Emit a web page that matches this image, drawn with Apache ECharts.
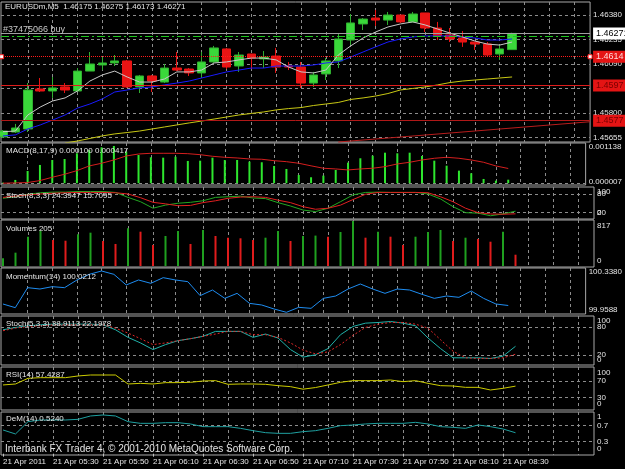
<!DOCTYPE html>
<html>
<head>
<meta charset="utf-8">
<title>EURUSDm,M5</title>
<script src="https://cdn.jsdelivr.net/npm/echarts@6.0.0/dist/echarts.min.js"></script>
<style>
  html, body { margin: 0; padding: 0; background: #000; }
  #main { width: 625px; height: 469px; }
</style>
</head>
<body>
<div id="main"></div>
<script>
var FONT = "'Liberation Sans', Arial, sans-serif";
var TXT = '#e4e4e4';
var FS = 8;

// M5 bars, index 0 = 05:10
var timeTicks = [0, 4, 8, 12, 16, 20, 24, 28, 32, 36, 40];
var timeLabels = ['21 Apr 2011', '21 Apr 05:30', '21 Apr 05:50', '21 Apr 06:10', '21 Apr 06:30', '21 Apr 06:50',
  '21 Apr 07:10', '21 Apr 07:30', '21 Apr 07:50', '21 Apr 08:10', '21 Apr 08:30'];
var gridBars = [2, 4, 6, 8, 10, 12, 14, 16, 18, 20, 22, 24, 26, 28, 30, 32, 34, 36, 38, 40, 42, 44, 46];

// open, close, low, high
var ohlc = [
  [1.45658, 1.45693, 1.45652, 1.45699], [1.45687, 1.45711, 1.45681, 1.45735], [1.45705, 1.45936, 1.45687, 1.45977],
  [1.45942, 1.45930, 1.45924, 1.46007], [1.45930, 1.45948, 1.45889, 1.46013], [1.45954, 1.45936, 1.45918, 1.45977],
  [1.45930, 1.46048, 1.45924, 1.46066], [1.46048, 1.46090, 1.46048, 1.46161], [1.46084, 1.46096, 1.46054, 1.46131],
  [1.46096, 1.46108, 1.46078, 1.46143], [1.46108, 1.45954, 1.45948, 1.46114], [1.45954, 1.46019, 1.45918, 1.46025],
  [1.46019, 1.45989, 1.45924, 1.46025], [1.45983, 1.46066, 1.45977, 1.46090], [1.46066, 1.46054, 1.46048, 1.46161],
  [1.46060, 1.46037, 1.46019, 1.46066], [1.46037, 1.46102, 1.46007, 1.46161], [1.46102, 1.46185, 1.46096, 1.46197],
  [1.46179, 1.46072, 1.46060, 1.46185], [1.46078, 1.46143, 1.46043, 1.46161], [1.46149, 1.46125, 1.46060, 1.46149],
  [1.46120, 1.46131, 1.46066, 1.46167], [1.46137, 1.46072, 1.46037, 1.46185], [1.46078, 1.46072, 1.46054, 1.46102],
  [1.46072, 1.45977, 1.45948, 1.46102], [1.45977, 1.46025, 1.45954, 1.46043], [1.46031, 1.46108, 1.45995, 1.46125],
  [1.46108, 1.46238, 1.46066, 1.46273], [1.46232, 1.46333, 1.46202, 1.46386], [1.46327, 1.46356, 1.46291, 1.46362],
  [1.46362, 1.46350, 1.46315, 1.46410], [1.46350, 1.46380, 1.46321, 1.46398], [1.46380, 1.46339, 1.46333, 1.46380],
  [1.46339, 1.46386, 1.46339, 1.46398], [1.46392, 1.46303, 1.46279, 1.46392], [1.46303, 1.46256, 1.46232, 1.46339],
  [1.46262, 1.46238, 1.46220, 1.46303], [1.46244, 1.46220, 1.46191, 1.46285], [1.46220, 1.46208, 1.46173, 1.46220],
  [1.46208, 1.46143, 1.46137, 1.46220], [1.46149, 1.46179, 1.46114, 1.46202], [1.46175, 1.46271, 1.46173, 1.46275]
];
var maFast = [1.45689, 1.45693, 1.45788, 1.45835, 1.45871, 1.45889, 1.45930, 1.45989, 1.46025, 1.46048, 1.46013,
  1.45983, 1.45983, 1.46001, 1.46043, 1.46043, 1.46054, 1.46096, 1.46102, 1.46114, 1.46125, 1.46125, 1.46114,
  1.46072, 1.46043, 1.46037, 1.46054, 1.46143, 1.46197, 1.46244, 1.46279, 1.46309, 1.46327, 1.46339, 1.46321,
  1.46297, 1.46273, 1.46250, 1.46226, 1.46208, 1.46202, 1.46220];
var maMid = [1.45664, 1.45670, 1.45705, 1.45729, 1.45758, 1.45788, 1.45829, 1.45853, 1.45883, 1.45924, 1.45936,
  1.45948, 1.45954, 1.45966, 1.45977, 1.45989, 1.46007, 1.46025, 1.46043, 1.46054, 1.46066, 1.46066, 1.46078,
  1.46078, 1.46078, 1.46084, 1.46096, 1.46102, 1.46131, 1.46161, 1.46191, 1.46220, 1.46238, 1.46250, 1.46256,
  1.46256, 1.46256, 1.46250, 1.46244, 1.46232, 1.46232, 1.46238];
var maSlow = [null, null, null, null, null, 1.45622, 1.45634, 1.45649, 1.45664, 1.45676, 1.45684, 1.45693, 1.45705,
  1.45717, 1.45729, 1.45741, 1.45752, 1.45764, 1.45776, 1.45788, 1.45797, 1.45806, 1.45818, 1.45826, 1.45832,
  1.45844, 1.45853, 1.45862, 1.45880, 1.45889, 1.45900, 1.45915, 1.45936, 1.45945, 1.45954, 1.45966, 1.45980,
  1.45989, 1.45995, 1.46001, 1.46007, 1.46013];

var priceTicks = [1.45655, 1.45800, 1.45945, 1.46090, 1.46235, 1.46380];
var bidPrice = 1.46271;
var orderPrice = 1.46255;
var orderLabel = '#37475066 buy';
var levels = [1.46133, 1.45962, 1.45754];
var levelLabels = ['1.4614', '1.4597', '1.4577'];
var trendLine = [[27, 1.45628], [47.28, 1.45748]];

var macd = [0.000017, 0.000093, 0.000347, 0.000517, 0.000658, 0.000686, 0.000847, 0.000940, 0.001017, 0.001053,
  0.000892, 0.000799, 0.000734, 0.000723, 0.000751, 0.000630, 0.000638, 0.000723, 0.000658, 0.000658, 0.000610,
  0.000593, 0.000489, 0.000404, 0.000234, 0.000169, 0.000215, 0.000376, 0.000582, 0.000706, 0.000779, 0.000864,
  0.000847, 0.000864, 0.000771, 0.000638, 0.000497, 0.000356, 0.000282, 0.000121, 0.000073, 0.000100];
var macdSignal = [0.000000, 0.000009, 0.000019, 0.000075, 0.000169, 0.000254, 0.000357, 0.000489, 0.000565,
  0.000658, 0.000771, 0.000827, 0.000847, 0.000847, 0.000847, 0.000836, 0.000808, 0.000762, 0.000734, 0.000715,
  0.000686, 0.000678, 0.000638, 0.000610, 0.000565, 0.000492, 0.000424, 0.000404, 0.000376, 0.000404, 0.000424,
  0.000469, 0.000545, 0.000593, 0.000658, 0.000706, 0.000734, 0.000706, 0.000658, 0.000593, 0.000489, 0.000417];
var stochA = [66, 71, 79, 84, 86, 86, 88, 88, 88, 85, 69, 55, 34, 44, 50, 53, 58, 69, 71, 73, 67, 65, 52, 41, 28, 23,
  33.8, 55, 77, 85, 86, 85, 85, 85, 80, 64, 39, 19.5, 18, 9.5, 15.3, 24.3947];
var stochASignal = [69, 73, 77, 80, 82.5, 84, 85, 85, 85, 84, 80, 68, 53, 48, 42, 43, 52, 58, 66, 70, 71, 69, 60, 52,
  39, 30.6, 33.8, 44, 62, 79, 85, 85, 85, 85, 84, 71, 55, 34, 19.5, 15.3, 14.5, 15.7095];
var volumes = [140, 242, 532, 641, 472, 459, 576, 605, 454, 400, 685, 623, 381, 545, 636, 400, 654, 545, 514, 503,
  472, 514, 636, 454, 545, 552, 532, 617, 817, 514, 623, 532, 381, 532, 617, 654, 454, 514, 490, 441, 623, 205];
var momentum = [100.0350, 100.0013, 100.1850, 100.1727, 100.1941, 100.1850, 100.2554, 100.3074, 100.3380, 100.3074,
  100.2095, 100.2554, 100.2248, 100.2768, 100.2554, 100.2400, 100.1115, 100.1635, 100.0870, 100.1329, 100.0411,
  100.0258, 99.9891, 99.9588, 100.0044, 99.9952, 100.0870, 100.1084, 100.1727, 100.2186, 100.1727, 100.1329,
  100.1727, 100.1635, 100.1238, 100.0870, 100.1084, 100.0962, 100.1544, 100.0870, 100.0350, 100.0212];
var stochB = [73.8, 78.7, 82.2, 84.3, 85.7, 85.7, 85.7, 85.7, 84.3, 73.8, 57.8, 46.0, 32.0, 42.5, 50.8, 55.0, 59.9,
  70.4, 70.4, 70.4, 57.8, 64.8, 56.4, 32.0, 16.0, 21.0, 34.1, 63.4, 80.8, 87.8, 89.2, 91.3, 87.8, 82.2, 56.4, 34.1,
  14.6, 14.6, 14.6, 13.2, 18.1, 38.9113];
var stochBSignal = [71.8, 77.3, 80.8, 82.2, 84.3, 84.3, 84.3, 84.3, 84.3, 77.3, 66.9, 55.0, 42.5, 46.0, 50.8, 55.0,
  59.9, 64.8, 70.4, 70.4, 63.4, 63.4, 57.8, 46.0, 31.0, 22.9, 27.1, 42.5, 62.0, 78.7, 85.7, 89.2, 89.2, 85.7, 77.3,
  52.9, 28.5, 14.6, 13.2, 13.2, 14.6, 22.1978];
var rsi = [60.3, 62.7, 76.6, 78.2, 78.2, 78.2, 82.3, 84.7, 84.7, 84.7, 62.7, 64.3, 62.7, 66.0, 66.0, 66.8, 70.0, 70.9,
  61.9, 62.7, 62.7, 61.9, 58.6, 56.2, 50.0, 54.0, 60.3, 66.8, 70.9, 70.9, 70.9, 72.5, 68.4, 70.9, 64.3, 58.6, 57.8,
  54.5, 54.5, 48.0, 52.1, 57.4287];
var dem = [0.593, 0.493, 0.801, 0.843, 0.843, 0.843, 0.859, 0.943, 0.968, 0.943, 0.801, 0.759, 0.759, 0.776, 0.776,
  0.743, 0.676, 0.676, 0.676, 0.634, 0.576, 0.526, 0.509, 0.509, 0.551, 0.576, 0.634, 0.701, 0.718, 0.743, 0.759,
  0.759, 0.759, 0.784, 0.743, 0.676, 0.659, 0.634, 0.718, 0.676, 0.618, 0.5240];

// pane layout and scale, one entry per window; pad = label nudge [bottom, top]
var X_MIN = -0.16, X_MAX = 47.28;
var panes = [
  {top: 2, height: 140, min: 1.45628, max: 1.46457, lines: priceTicks, inner: priceTicks, edge: [], digits: 5},
  {top: 143, height: 42, min: -0.00005, max: 0.001138, lines: [0], inner: [], edge: [0.000007, 0.001138], digits: 6, pad: [2, 7]},
  {top: 187, height: 32, min: -1, max: 102.6, lines: [20, 80], inner: [20, 80], edge: [0, 100], digits: 0, pad: [12, 8]},
  {top: 220, height: 47, min: -18, max: 835, lines: [], inner: [], edge: [0, 817], digits: 0, pad: [10, 10]},
  {top: 268, height: 46, min: 99.9432, max: 100.3655, lines: [], inner: [], edge: [99.9588, 100.3380], digits: 4, pad: [6, 1]},
  {top: 316, height: 49, min: -0.6, max: 102.9, lines: [20, 80], inner: [20, 80], edge: [0, 100], digits: 0, pad: [10, 7]},
  {top: 367, height: 43, min: -1, max: 104.3, lines: [30, 70], inner: [30, 70], edge: [0, 100], digits: 0, pad: [11, 9]},
  {top: 412, height: 43, min: -0.0325, max: 1.0425, lines: [0.3, 0.7], inner: [0.3, 0.7], edge: [0, 1], digits: 1, pad: [9, 6]}
];

var dash = {color: '#8c8c8c', type: [3, 3], width: 1};

function pairs(arr) {
  var out = [];
  arr.forEach(function (v, i) { if (v != null) out.push([i, v]); });
  return out;
}

function fmt(v, digits) {
  if (digits === 1 && (v === 0 || v === 1)) return String(v);
  return v.toFixed(digits);
}

var grids = panes.map(function (p) {
  return {left: 1, right: 31, top: p.top, height: p.height, show: true,
    backgroundColor: '#000', borderColor: '#a8a8a8', borderWidth: 1};
});

var xAxes = panes.map(function (p, k) {
  return {
    type: 'value', gridIndex: k, min: X_MIN, max: X_MAX,
    axisLine: {show: false}, axisLabel: {show: false},
    axisTick: {show: false, customValues: gridBars},
    splitLine: {show: true, lineStyle: dash}
  };
});
xAxes.push({
  type: 'value', gridIndex: 7, min: X_MIN, max: X_MAX, position: 'bottom',
  axisLine: {show: false}, splitLine: {show: false},
  axisTick: {show: true, customValues: timeTicks, length: 3, lineStyle: {color: '#c0c0c0'}},
  axisLabel: {
    customValues: timeTicks, align: 'left', margin: 3, color: TXT, fontSize: FS, fontFamily: FONT, hideOverlap: false,
    formatter: function (v) { return timeLabels[timeTicks.indexOf(Math.round(v))]; }
  }
});

// two right axes per pane: inner levels (with grid lines) and the min/max labels
var yAxes = [];
panes.forEach(function (p, k) {
  yAxes.push({
    type: 'value', gridIndex: k, position: 'right', min: p.min, max: p.max,
    axisLine: {show: false},
    axisTick: {show: false, customValues: p.lines.length ? p.lines : undefined},
    splitLine: {show: p.lines.length > 0, lineStyle: dash},
    axisLabel: {show: p.inner.length > 0, customValues: p.inner.length ? p.inner : undefined,
      margin: 3, color: TXT, fontSize: FS, fontFamily: FONT, hideOverlap: false,
      formatter: function (v) { return fmt(v, p.digits); }}
  });
  var pad = p.pad || [0, 0];
  yAxes.push({
    type: 'value', gridIndex: k, position: 'right', min: p.min, max: p.max,
    axisLine: {show: false}, axisTick: {show: false}, splitLine: {show: false},
    axisLabel: {show: p.edge.length > 0, customValues: p.edge.length ? p.edge : undefined,
      margin: 3, color: TXT, fontSize: FS, fontFamily: FONT, hideOverlap: false,
      formatter: function (v) {
        return (v === p.edge[0] ? '{b|' : '{t|') + fmt(v, p.digits) + '}';
      },
      rich: {
        t: {padding: [pad[1], 0, 0, 0], color: TXT, fontSize: FS, fontFamily: FONT},
        b: {padding: [0, 0, pad[0], 0], color: TXT, fontSize: FS, fontFamily: FONT}
      }}
  });
});

function boxLabel(text, bg, fg) {
  return {show: true, position: 'end', distance: 3, formatter: text, backgroundColor: bg, color: fg,
    padding: [2, 6, 1, 3], fontSize: 9, fontFamily: FONT};
}

// horizontal line across the whole pane at price v
function hLine(v, lineStyle, label) {
  return [{coord: [X_MIN, v], lineStyle: lineStyle, label: label}, {coord: [X_MAX, v]}];
}

var last = ohlc.length - 1;
var titleTexts = [
  ['EURUSDm,M5  ' + ohlc[last][0].toFixed(5) + ' ' + ohlc[last][3].toFixed(5) + ' ' + ohlc[last][2].toFixed(5) + ' ' + ohlc[last][1].toFixed(5), 5, 3],
  ['MACD(8,17,9) ' + macd[last].toFixed(6) + ' ' + macdSignal[last].toFixed(6), 6, 147],
  ['Stoch(8,3,3) ' + stochA[last].toFixed(4) + ' ' + stochASignal[last].toFixed(4), 6, 192],
  ['Volumes ' + volumes[last], 6, 225],
  ['Momentum(14) ' + momentum[last].toFixed(4), 6, 273],
  ['Stoch(5,3,3) ' + stochB[last].toFixed(4) + ' ' + stochBSignal[last].toFixed(4), 6, 320],
  ['RSI(14) ' + rsi[last].toFixed(4), 6, 371],
  ['DeM(14) ' + dem[last].toFixed(4), 6, 415]
];
var titles = titleTexts.map(function (t) {
  return {text: t[0], left: t[1], top: t[2], padding: 0,
    textStyle: {color: TXT, fontSize: FS, fontWeight: 'normal', fontFamily: FONT}};
});
titles.push({text: 'Interbank FX Trader 4, \u00a9 2001-2010 MetaQuotes Software Corp.', left: 5, top: 444, padding: 0,
  textStyle: {color: TXT, fontSize: 10, fontWeight: 'normal', fontFamily: FONT}});

function line(k, data, color, type) {
  return {type: 'line', xAxisIndex: k, yAxisIndex: 2 * k, data: pairs(data), showSymbol: false, z: 3,
    lineStyle: {color: color, width: 1, type: type || 'solid'}};
}

var series = [];
series.push({
  type: 'candlestick', xAxisIndex: 0, yAxisIndex: 0,
  data: ohlc.map(function (r, i) { return [i, r[0], r[1], r[2], r[3]]; }),
  encode: {x: 0, y: [1, 2, 3, 4]},
  barWidth: 9,
  itemStyle: {color: '#3ad83a', color0: '#e81414', borderColor: '#2fae2f', borderColor0: '#e81414', borderWidth: 1}
});
series.push(line(0, maSlow, '#c8c814'));
series.push(line(0, maMid, '#1a1aff'));

// price levels, order line and trend line ride on the fast MA series
var fast = line(0, maFast, '#c8c8c8');
fast.markLine = {
  silent: true, symbol: ['none', 'none'], animation: false,
  data: [
    hLine(bidPrice, {color: '#a0a0a0', type: 'solid', width: 1}, boxLabel(bidPrice.toFixed(5), '#ffffff', '#000000')),
    hLine(orderPrice, {color: '#1ec81e', type: [8, 3, 2, 3], width: 1},
      {show: true, position: 'insideStartTop', distance: 2, formatter: orderLabel, color: '#c8c8c8', fontSize: FS + 1, fontFamily: FONT}),
    hLine(levels[0], {color: '#ff1a1a', type: [1, 1], width: 1}, boxLabel(levelLabels[0], '#e41414', '#ffd8d8')),
    hLine(levels[1], {color: '#e01c1c', type: 'solid', width: 1}, boxLabel(levelLabels[1], '#e41414', '#7a0000')),
    hLine(levels[2], {color: '#b01818', type: 'solid', width: 1}, boxLabel(levelLabels[2], '#e41414', '#7a0000')),
    [{coord: trendLine[0], lineStyle: {color: '#b81c1c', type: 'solid', width: 1}, label: {show: false}}, {coord: trendLine[1]}]
  ]
};
fast.markPoint = {
  silent: true, symbol: 'rect', symbolSize: 4, label: {show: false},
  itemStyle: {color: '#ffffff', borderColor: '#ff2020', borderWidth: 1},
  data: [{coord: [X_MIN + 0.05, levels[0]]}, {coord: [X_MAX, levels[0]]}]
};
series.push(fast);

series.push({type: 'bar', xAxisIndex: 1, yAxisIndex: 2, data: pairs(macd), barWidth: 2,
  itemStyle: {color: '#2ee62e'}});
series.push(line(1, macdSignal, '#d41e1e'));

series.push(line(2, stochA, '#22a822'));
series.push(line(2, stochASignal, '#e02020'));

series.push({type: 'bar', xAxisIndex: 3, yAxisIndex: 6, data: pairs(volumes), barWidth: 2,
  itemStyle: {
    color: function (p) {
      var i = p.dataIndex;
      return (i === 0 || volumes[i] > volumes[i - 1]) ? '#1fa01f' : '#e01c1c';
    }
  }});

series.push(line(4, momentum, '#1e8cf0'));

series.push(line(5, stochB, '#20b2aa'));
series.push(line(5, stochBSignal, '#e02828', [2, 2]));

series.push(line(6, rsi, '#cccc00'));
series.push(line(7, dem, '#1fa0a0'));

var chart = echarts.init(document.getElementById('main'), null, {renderer: 'canvas'});
chart.setOption({
  backgroundColor: '#000',
  animation: false,
  textStyle: {fontFamily: FONT},
  title: titles,
  grid: grids,
  xAxis: xAxes,
  yAxis: yAxes,
  series: series
});
</script>
</body>
</html>
